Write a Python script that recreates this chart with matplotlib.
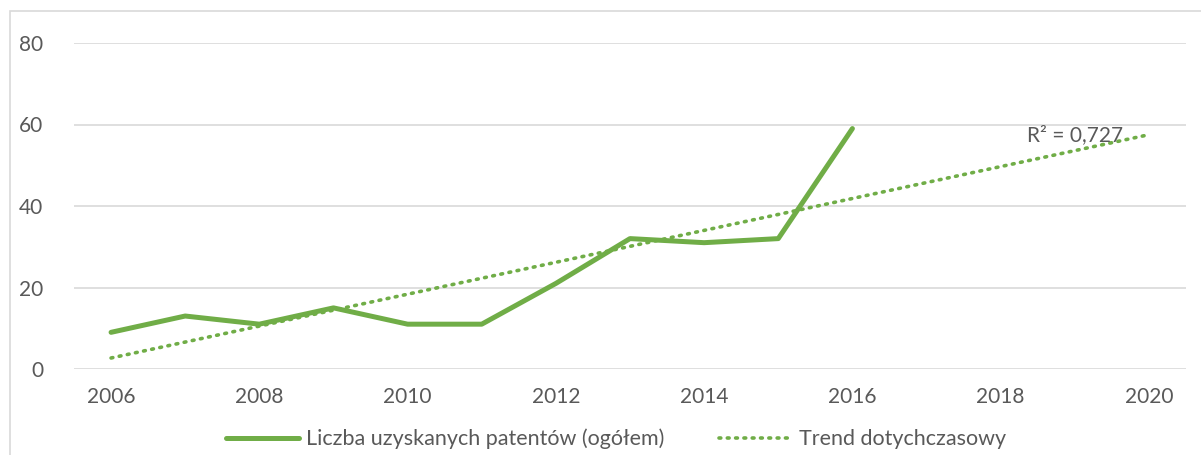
import matplotlib.pyplot as plt
from matplotlib.patches import Rectangle

years = [2006, 2007, 2008, 2009, 2010, 2011, 2012, 2013, 2014, 2015, 2016]
patents = [9, 13, 11, 15, 11, 11, 21, 32, 31, 32, 59]
trend_years = [2006, 2020]
trend_values = [2.7, 57.5]
x_ticks = [2006, 2008, 2010, 2012, 2014, 2016, 2018, 2020]
y_ticks = [0, 20, 40, 60, 80]
r2_label = "R² = 0,727"

green = "#70AD47"
text_gray = "#595959"
grid_gray = "#D9D9D9"

plt.rcParams["font.family"] = ["Lato", "DejaVu Sans"]

fig = plt.figure(figsize=(12.01, 4.55), dpi=100)
fig.patches.append(Rectangle((10 / 1201, -0.1), 1.2, 0.1 + 1 - 11 / 455,
                             transform=fig.transFigure, fill=False,
                             edgecolor=grid_gray, linewidth=1.2))

ax = fig.add_axes([74 / 1201, 1 - 369 / 455, (1186 - 74) / 1201, (369 - 43) / 455])

ax.plot(years, patents, color=green, linewidth=3.6, solid_capstyle="round",
        label="Liczba uzyskanych patentów (ogółem)", zorder=3)
ax.plot(trend_years, trend_values, color=green, linewidth=2.6,
        linestyle=(0, (0.5, 1.8)), dash_capstyle="round",
        label="Trend dotychczasowy", zorder=2)

ax.text(2018.36, 57.4, r2_label, color=text_gray, fontsize=15, va="center", ha="left")

ax.set_xlim(2005.5, 2020.5)
ax.set_ylim(0, 80)
ax.set_xticks(x_ticks)
ax.set_yticks(y_ticks)
ax.tick_params(axis="both", length=0, labelsize=15, labelcolor=text_gray)
ax.tick_params(axis="x", pad=13)
ax.tick_params(axis="y", pad=22)
ax.grid(axis="y", color=grid_gray, linewidth=1.2)
ax.set_axisbelow(True)
for s in ax.spines.values():
    s.set_visible(False)

leg = fig.legend(loc="center", bbox_to_anchor=(0.513, 1 - 439 / 455), ncol=2,
                 frameon=False, fontsize=15.5, handlelength=3.4,
                 columnspacing=2.5, handletextpad=0.35)
for t in leg.get_texts():
    t.set_color(text_gray)

fig.savefig("out.png", dpi=100)
plt.close()
